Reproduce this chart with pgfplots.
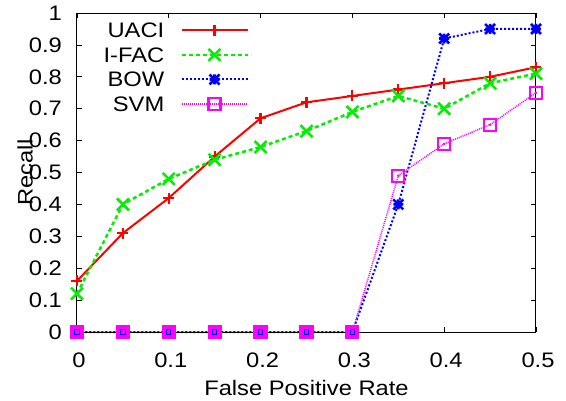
\documentclass[border=0pt]{standalone}
\usepackage{fontspec}
\setmainfont{Liberation Sans}[FakeStretch=1.13]
\usepackage{pgfplots}
\pgfplotsset{compat=1.18}
\definecolor{cred}{RGB}{255,0,0}
\definecolor{cgreen}{RGB}{0,240,0}
\definecolor{cblue}{RGB}{0,0,255}
\definecolor{cmag}{RGB}{255,0,255}
\pgfdeclareplotmark{gpstar}{%
  \pgfpathmoveto{\pgfqpoint{-\pgfplotmarksize}{0pt}}\pgfpathlineto{\pgfqpoint{\pgfplotmarksize}{0pt}}%
  \pgfpathmoveto{\pgfqpoint{0pt}{-\pgfplotmarksize}}\pgfpathlineto{\pgfqpoint{0pt}{\pgfplotmarksize}}%
  \pgfpathmoveto{\pgfqpoint{-\pgfplotmarksize}{-\pgfplotmarksize}}\pgfpathlineto{\pgfqpoint{\pgfplotmarksize}{\pgfplotmarksize}}%
  \pgfpathmoveto{\pgfqpoint{-\pgfplotmarksize}{\pgfplotmarksize}}\pgfpathlineto{\pgfqpoint{\pgfplotmarksize}{-\pgfplotmarksize}}%
  \pgfusepathqstroke}
\begin{document}
\fontsize{21}{25}\selectfont
\begin{tikzpicture}
\useasboundingbox (-77pt,-68pt) rectangle (489pt,332pt);
\begin{axis}[
  at={(0pt,0pt)}, anchor=south west,
  scale only axis, width=459pt, height=319pt,
  xmin=0, xmax=0.5, ymin=0, ymax=1,
  clip=false,
  xtick={0,0.1,0.2,0.3,0.4,0.5},
  xticklabels={0,0.1,0.2,0.3,0.4,0.5},
  ytick={0,0.1,0.2,0.3,0.4,0.5,0.6,0.7,0.8,0.9,1},
  yticklabels={0,0.1,0.2,0.3,0.4,0.5,0.6,0.7,0.8,0.9,1},
  tick align=inside, major tick length=5pt,
  tick style={black, line width=0.8pt},
  axis line style={black, line width=1pt},
  /pgf/number format/assume math mode=true,
  xticklabel style={anchor=base, inner sep=0pt, yshift=-35pt, xshift=2pt},
  yticklabel style={anchor=east, inner sep=0pt, xshift=-15pt},
  xlabel={False Positive Rate},
  ylabel={Recall},
  xlabel style={at={(axis description cs:0.5,0)}, anchor=base, inner sep=0pt, yshift=-63pt},
  ylabel style={at={(axis description cs:0,0.5)}, anchor=center, inner sep=0pt, yshift=52pt},
  legend style={at={(axis description cs:0.3747,0.970)}, anchor=north east, draw=none, fill=none,
    inner sep=0pt, row sep=9.6pt, column sep=16pt,
    nodes={inner sep=0pt, text height=15pt, text depth=0pt}},
  legend cell align=right,
  legend plot pos=right,
  legend image code/.code={\draw[mark repeat=2,mark phase=2,#1] plot coordinates {(0pt,0pt) (33pt,0pt) (66pt,0pt)};},
]
\addplot[cred, line width=2pt, mark=+, mark size=5.5pt, mark options={solid, line width=2.2pt}]
coordinates {(0,0.16) (0.05,0.31) (0.1,0.42) (0.15,0.55) (0.2,0.67) (0.25,0.72) (0.3,0.74) (0.35,0.76) (0.4,0.78) (0.45,0.80) (0.5,0.83)};
\addlegendentry{UACI}
\addplot[cgreen, line width=2.5pt, dash pattern=on 4pt off 3pt, mark=x, mark size=8.5pt, mark options={solid, line width=2.5pt}]
coordinates {(0,0.12) (0.05,0.40) (0.1,0.48) (0.15,0.54) (0.2,0.58) (0.25,0.63) (0.3,0.69) (0.35,0.74) (0.4,0.70) (0.45,0.78) (0.5,0.81)};
\addlegendentry{I-FAC}
\addplot[cblue, line width=2pt, dash pattern=on 2pt off 2pt, mark=gpstar, mark size=5pt, mark options={solid, line width=2.6pt}]
coordinates {(0,0) (0.05,0) (0.1,0) (0.15,0) (0.2,0) (0.25,0) (0.3,0) (0.35,0.40) (0.4,0.92) (0.45,0.95) (0.5,0.95)};
\addlegendentry{BOW}
\addplot[cmag, line width=1.5pt, dash pattern=on 1pt off 1pt, mark=square, mark size=6pt, mark options={solid, line width=2.2pt}]
coordinates {(0,0) (0.05,0) (0.1,0) (0.15,0) (0.2,0) (0.25,0) (0.3,0) (0.35,0.49) (0.4,0.59) (0.45,0.65) (0.5,0.75)};
\addlegendentry{SVM}
\addplot[forget plot, only marks, cmag, mark=*, mark size=1pt]
coordinates {(0.35,0.49) (0.4,0.59) (0.45,0.65) (0.5,0.75)};
\addplot[forget plot, only marks, mark=square*, mark size=6pt, mark options={draw=cmag, fill=cmag, line width=1pt}]
coordinates {(0,0) (0.05,0) (0.1,0) (0.15,0) (0.2,0) (0.25,0) (0.3,0)};
\addplot[forget plot, only marks, mark=square, mark size=2.2pt, mark options={draw=cblue, line width=1pt}]
coordinates {(0,0) (0.05,0) (0.1,0) (0.15,0) (0.2,0) (0.25,0) (0.3,0)};
\draw[black, line width=0.8pt] (axis cs:0,0) -- (axis cs:0.5,0);
\end{axis}
\end{tikzpicture}
\end{document}
